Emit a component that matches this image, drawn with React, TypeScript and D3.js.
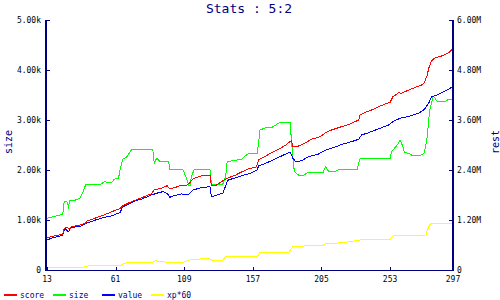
import React from "react";
import * as d3 from "d3";

const TITLE = "Stats : 5:2";
const LEFT_TITLE = "size";
const RIGHT_TITLE = "rest";

const xTicks = [13, 61, 109, 157, 205, 253, 297];
const leftTicks = [0, 1, 2, 3, 4, 5];
const leftTickLabels = ["0", "1.00k", "2.00k", "3.00k", "4.00k", "5.00k"];
const rightTicks = [0, 1.2, 2.4, 3.6, 4.8, 6];
const rightTickLabels = ["0", "1.20M", "2.40M", "3.60M", "4.80M", "6.00M"];

// score (right axis, M)
const score: [number, number][] = [
  [13, 0.775], [22, 0.847], [24, 0.864], [25, 1.001], [27, 1.025], [29, 0.984], [30, 1.039],
  [36, 1.08], [40, 1.121], [41, 1.176], [47, 1.248], [54, 1.337], [60, 1.423], [64, 1.471],
  [66, 1.543], [72, 1.639], [80, 1.745], [86, 1.831], [88, 1.92], [91, 1.944], [94, 1.975],
  [97, 2.023], [99, 1.944], [103, 1.985], [107, 2.033], [111, 2.04], [113, 2.095], [115, 2.184],
  [119, 2.239], [122, 2.273], [127, 2.28], [128, 2.016], [131, 2.028], [135, 2.119], [139, 2.201],
  [145, 2.28], [149, 2.352], [155, 2.441], [159, 2.465], [160, 2.52], [161, 2.64], [166, 2.736],
  [170, 2.815], [175, 2.897], [180, 3.0], [183, 3.079], [184, 3.096], [185, 2.976], [189, 2.976],
  [194, 3.055], [198, 3.137], [204, 3.199], [208, 3.295], [212, 3.36], [219, 3.439], [225, 3.504],
  [231, 3.6], [232, 3.72], [235, 3.775], [240, 3.84], [245, 3.919], [249, 3.977], [253, 4.025],
  [255, 4.159], [259, 4.255], [261, 4.241], [265, 4.303], [269, 4.361], [275, 4.44], [277, 4.495],
  [279, 4.68], [280, 4.841], [282, 5.023], [284, 5.081], [289, 5.136], [294, 5.215], [297, 5.31],
];

// size (left axis, k)
const size: [number, number][] = [
  [13, 1.034], [16, 1.054], [20, 1.086], [24, 1.114], [25, 1.366], [27, 1.366], [28, 1.266],
  [29, 1.386], [33, 1.4], [36, 1.434], [38, 1.546], [40, 1.7], [43, 1.72], [51, 1.72],
  [53, 1.766], [58, 1.746], [60, 1.814], [63, 1.834], [64, 1.986], [66, 2.214], [69, 2.266],
  [72, 2.4], [76, 2.414], [81, 2.4], [87, 2.414], [88, 2.134], [89, 2.2], [90, 2.234],
  [92, 2.166], [94, 2.18], [98, 2.18], [99, 2.014], [108, 2.014], [111, 1.8], [112, 1.7],
  [113, 1.68], [114, 1.866], [116, 2.014], [127, 2.014], [128, 1.72], [136, 1.72], [138, 1.866],
  [139, 2.166], [143, 2.186], [149, 2.214], [153, 2.314], [155, 2.334], [160, 2.334], [161, 2.534],
  [162, 2.8], [166, 2.846], [170, 2.846], [176, 2.954], [183, 2.954], [184, 2.6], [185, 2.266],
  [186, 1.966], [189, 1.9], [193, 1.9], [195, 1.946], [206, 1.946], [208, 2.066], [210, 1.966],
  [214, 1.966], [218, 2.014], [230, 2.014], [232, 2.234], [253, 2.234], [254, 2.366], [258, 2.5],
  [260, 2.6], [262, 2.466], [263, 2.346], [266, 2.334], [269, 2.28], [275, 2.3], [277, 2.346],
  [279, 2.666], [280, 3.0], [281, 3.234], [283, 3.466], [284, 3.454], [286, 3.366], [291, 3.366],
  [294, 3.414], [297, 3.414],
];

// value (right axis, M)
const value: [number, number][] = [
  [13, 0.72], [17, 0.775], [22, 0.816], [24, 0.84], [25, 0.96], [26, 0.984], [28, 0.919],
  [30, 1.025], [36, 1.039], [38, 1.08], [40, 1.121], [43, 1.152], [47, 1.2], [53, 1.265],
  [58, 1.296], [61, 1.337], [64, 1.375], [66, 1.519], [69, 1.56], [75, 1.663], [80, 1.711],
  [86, 1.8], [91, 1.855], [94, 1.879], [97, 1.841], [99, 1.745], [101, 1.776], [107, 1.824],
  [112, 1.817], [115, 1.92], [121, 1.975], [127, 1.999], [128, 1.759], [132, 1.8], [136, 1.841],
  [139, 2.119], [140, 2.16], [147, 2.239], [155, 2.321], [156, 2.335], [160, 2.4], [161, 2.496],
  [166, 2.561], [171, 2.64], [176, 2.719], [181, 2.801], [183, 2.825], [184, 2.76], [185, 2.681],
  [187, 2.599], [191, 2.623], [196, 2.719], [203, 2.784], [207, 2.863], [214, 2.945], [220, 3.024],
  [226, 3.079], [231, 3.137], [233, 3.24], [238, 3.295], [244, 3.377], [252, 3.48], [256, 3.583],
  [260, 3.641], [267, 3.696], [273, 3.761], [277, 3.857], [280, 4.001], [282, 4.159], [286, 4.2],
  [289, 4.255], [294, 4.337], [297, 4.416],
];

// xp*60 (right axis, M)
const xp60: [number, number][] = [
  [13, 0.05], [36, 0.055], [40, 0.079], [44, 0.113], [65, 0.113], [66, 0.144], [69, 0.175],
  [86, 0.175], [89, 0.223], [92, 0.199], [99, 0.185], [108, 0.185], [110, 0.199], [114, 0.257],
  [127, 0.271], [128, 0.24], [136, 0.24], [138, 0.319], [160, 0.319], [162, 0.425], [182, 0.425],
  [185, 0.559], [193, 0.576], [206, 0.593], [208, 0.631], [220, 0.655], [232, 0.72], [233, 0.737],
  [253, 0.737], [255, 0.816], [258, 0.823], [278, 0.823], [279, 0.96], [281, 1.097], [282, 1.121],
  [297, 1.121],
];

const legendNames = ["score", "size", "value", "xp*60"];
const legendColors = ["#ff0000", "#00ff00", "#0000ff", "#ffff00"];

const NAVY = "#000080";
const FONT = "'DejaVu Sans Mono', monospace";

export default function App() {
  const W = 500, H = 300;
  const left = 46, right = 453, top = 20, bottom = 270;
  const x = d3.scaleLinear().domain([13, 297]).range([left + 1, right]);
  const yL = d3.scaleLinear().domain([0, 5]).range([bottom, top]);
  const yR = d3.scaleLinear().domain([0, 6]).range([bottom, top]);
  const lineL = d3.line<[number, number]>().x((d) => x(d[0])).y((d) => yL(d[1]));
  const lineR = d3.line<[number, number]>().x((d) => x(d[0])).y((d) => yR(d[1]));

  const series = [
    { d: lineR(xp60), c: legendColors[3] },
    { d: lineL(size), c: legendColors[1] },
    { d: lineR(value), c: legendColors[2] },
    { d: lineR(score), c: legendColors[0] },
  ];

  const legendX = [4, 53, 102, 151];

  return (
    <svg
      width={W}
      height={H}
      style={{ position: "absolute", left: 0, top: 0, background: "#fff" }}
      fontFamily={FONT}
    >
      <rect x={0} y={0} width={W} height={H} fill="#fff" />
      <text x={249} y={13} textAnchor="middle" fontSize={13} fill={NAVY}>
        {TITLE}
      </text>

      {/* data lines */}
      <g fill="none" strokeWidth={1} shapeRendering="crispEdges">
        {series.map((s, i) => (
          <path key={i} d={s.d || ""} stroke={s.c} />
        ))}
      </g>

      {/* axes */}
      <g stroke={NAVY} strokeWidth={1.5} shapeRendering="crispEdges">
        <line x1={left} y1={top} x2={left} y2={bottom + 1} />
        <line x1={right} y1={top} x2={right} y2={bottom + 1} />
        <line x1={left} y1={bottom + 0.5} x2={right} y2={bottom + 0.5} />
      </g>
      <g stroke={NAVY} strokeWidth={1} shapeRendering="crispEdges">
        {leftTicks.map((t, i) => (
          <line key={"l" + i} x1={left} x2={left + 4} y1={yL(t) + 0.5} y2={yL(t) + 0.5} />
        ))}
        {rightTicks.map((t, i) => (
          <line key={"r" + i} x1={right - 4} x2={right} y1={yR(t) + 0.5} y2={yR(t) + 0.5} />
        ))}
        {xTicks.map((t, i) => (
          <line key={"x" + i} x1={x(t) + 0.5} x2={x(t) + 0.5} y1={bottom - 3} y2={bottom} />
        ))}
      </g>

      {/* tick labels */}
      <g fontSize={8} fill="#000">
        {leftTicks.map((t, i) => (
          <text key={"lt" + i} x={left - 5} y={yL(t) + 3} textAnchor="end">
            {leftTickLabels[i]}
          </text>
        ))}
        {rightTicks.map((t, i) => (
          <text key={"rt" + i} x={right + 4} y={yR(t) + 3} textAnchor="start">
            {rightTickLabels[i]}
          </text>
        ))}
        {xTicks.map((t, i) => (
          <text key={"xt" + i} x={x(t)} y={bottom + 12} textAnchor="middle">
            {t}
          </text>
        ))}
      </g>

      {/* axis titles */}
      <text
        transform={`translate(12,${(top + bottom) / 2 - 3}) rotate(-90)`}
        textAnchor="middle"
        fontSize={10}
        fill={NAVY}
      >
        {LEFT_TITLE}
      </text>
      <text
        transform={`translate(499,${(top + bottom) / 2 - 3}) rotate(-90)`}
        textAnchor="middle"
        fontSize={10}
        fill={NAVY}
      >
        {RIGHT_TITLE}
      </text>

      {/* legend */}
      {legendNames.map((n, i) => (
        <g key={"lg" + i}>
          <line
            x1={legendX[i]}
            x2={legendX[i] + 13}
            y1={295}
            y2={295}
            stroke={legendColors[i]}
            strokeWidth={2}
            shapeRendering="crispEdges"
          />
          <text x={legendX[i] + 16} y={298} fontSize={8} fill={NAVY}>
            {n}
          </text>
        </g>
      ))}
    </svg>
  );
}
